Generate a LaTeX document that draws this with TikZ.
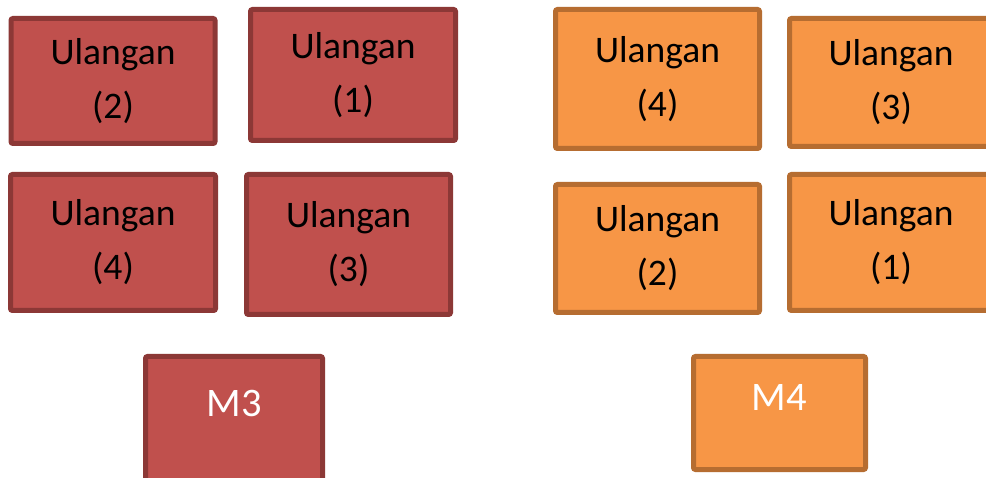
\documentclass[tikz,border=0pt]{standalone}
\usepackage{fontspec}
\setmainfont{Carlito}
\definecolor{redfill}{HTML}{C0504D}
\definecolor{redline}{HTML}{8C3836}
\definecolor{orfill}{HTML}{F79646}
\definecolor{orline}{HTML}{B66D31}
\tikzset{
  box/.style={rectangle, line width=5pt, rounded corners=2pt, align=center,
    inner sep=0pt, font=\fontsize{37.5}{54}\selectfont},
  redbox/.style={box, draw=redline, fill=redfill, text=black},
  orbox/.style={box, draw=orline, fill=orfill, text=black},
  mtext/.style={text=white, font=\fontsize{40.5}{45}\selectfont, inner sep=0pt},
}
\begin{document}
\begin{tikzpicture}[x=1pt,y=-1pt]
\clip (0,0) rectangle (986,478);
\fill[white] (0,0) rectangle (986,478);
% red group
\node[redbox, minimum width=204pt, minimum height=125pt] (r2) at (113,81) {Ulangan\\(2)};
\node[redbox, minimum width=205pt, minimum height=131pt] (r1) at (353,75) {Ulangan\\(1)};
\node[redbox, minimum width=205pt, minimum height=136pt] (r4) at (113,242.5) {Ulangan\\(4)};
\node[redbox, minimum width=204pt, minimum height=140pt] (r3) at (348.5,244.5) {Ulangan\\(3)};
\node[redbox, minimum width=177pt, minimum height=161pt] (m3) at (234,437) {};
\node[mtext, anchor=base] (m3t) at ([yshift=-63pt]m3.north) {M3};
% orange group
\node[orbox, minimum width=204pt, minimum height=139pt] (o4) at (657.5,79) {Ulangan\\(4)};
\node[orbox, minimum width=203pt, minimum height=128pt] (o3) at (891,82.5) {Ulangan\\(3)};
\node[orbox, minimum width=204pt, minimum height=128pt] (o2) at (657.5,248.5) {Ulangan\\(2)};
\node[orbox, minimum width=203pt, minimum height=136pt] (o1) at (891,242.5) {Ulangan\\(1)};
\node[orbox, minimum width=172pt, minimum height=113pt] (m4) at (779.5,413) {};
\node[mtext, anchor=base] (m4t) at ([yshift=-57pt]m4.north) {M4};
\end{tikzpicture}
\end{document}
